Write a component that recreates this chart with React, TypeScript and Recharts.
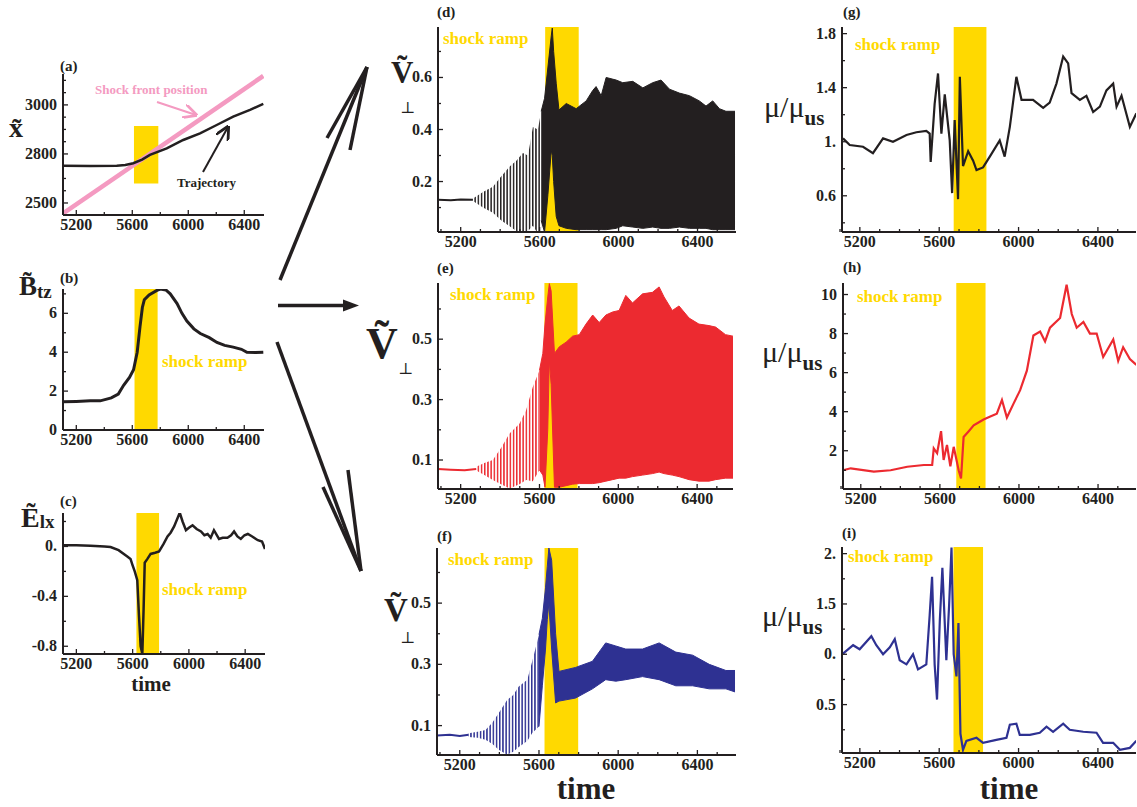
import React from "react";
import { ComposedChart, Line, Area, XAxis, YAxis } from "recharts";

const SERIF = '"Liberation Serif", "Times New Roman", serif';
const INK = "#231f20";
const RED = "#ec2a30";
const BLUE = "#2e3192";
const YELLOW = "#ffd900";
const PINK = "#f49ac1";

// ---- axis ticks ----
const xTicksLeft = [5200, 5400, 5600, 5800, 6000, 6200, 6400];
const xTicksWide = [5100, 5200, 5300, 5400, 5500, 5600, 5700, 5800, 5900, 6000, 6100, 6200, 6300, 6400, 6500];
const xLabVals = [5200, 5600, 6000, 6400];

const aTicks = [2600, 2650, 2700, 2750, 2800, 2850, 2900, 2950, 3000, 3050, 3100];
const aLabVals = [2600, 2800, 3000];
const aLabTexts = ["2500", "2800", "3000"];
const bTicks = [0, 1, 2, 3, 4, 5, 6, 7];
const bLabVals = [0, 2, 4, 6];
const bLabTexts = ["0", "2", "4", "6"];
const cTicks = [-0.8, -0.6, -0.4, -0.2, 0, 0.2];
const cLabVals = [-0.8, -0.4, 0];
const cLabTexts = ["-0.8", "-0.4", "0."];
const dTicks = [0.1, 0.2, 0.3, 0.4, 0.5, 0.6, 0.7];
const dLabVals = [0.2, 0.4, 0.6];
const dLabTexts = ["0.2", "0.4", "0.6"];
const efTicks = [0.1, 0.2, 0.3, 0.4, 0.5, 0.6];
const efLabVals = [0.1, 0.3, 0.5];
const efLabTexts = ["0.1", "0.3", "0.5"];
const gTicks = [0.4, 0.6, 0.8, 1.0, 1.2, 1.4, 1.6, 1.8];
const gLabVals = [0.6, 1.0, 1.4, 1.8];
const gLabTexts = ["0.6", "1.", "1.4", "1.8"];
const hTicks = [1, 2, 3, 4, 5, 6, 7, 8, 9, 10];
const hLabVals = [2, 4, 6, 8, 10];
const hLabTexts = ["2", "4", "6", "8", "10"];
const iTicks = [0.25, 0.5, 0.75, 1.0, 1.25, 1.5, 1.75, 2.0];
const iLabVals = [0.5, 1.0, 1.5, 2.0];
const iLabTexts = ["0.5", "0.", "1.5", "2."];

// ---- (a) positions ----
const aShockT = [5107, 6536];
const aShockX = [2558, 3118];
const aTrajT = [5107, 5300, 5489, 5550, 5607, 5670, 5726, 5846, 5964, 6084, 6203, 6321, 6441, 6536];
const aTrajX = [2752, 2751, 2752, 2755, 2762, 2777, 2796, 2823, 2857, 2884, 2918, 2952, 2980, 3004];

// ---- (b) B_tz ----
const bT = [5107, 5200, 5300, 5371, 5450, 5500, 5538, 5580, 5609, 5635, 5655, 5672, 5686, 5720, 5776, 5800, 5840, 5871, 5920, 5955, 5990, 6040, 6086, 6150, 6205, 6260, 6321, 6380, 6419, 6480, 6536];
const bV = [1.45, 1.47, 1.5, 1.5, 1.65, 1.85, 2.3, 2.7, 3.1, 4.0, 5.3, 6.3, 6.7, 6.95, 7.18, 7.25, 7.2, 7.0, 6.5, 6.0, 5.6, 5.2, 4.96, 4.75, 4.5, 4.35, 4.26, 4.15, 4.0, 3.98, 4.0];

// ---- (c) E_lx ----
const cT = [5105, 5200, 5300, 5400, 5443, 5500, 5562, 5585, 5598, 5615, 5633, 5645, 5657, 5669, 5678, 5686, 5705, 5728, 5760, 5788, 5820, 5848, 5870, 5895, 5935, 5955, 5979, 6000, 6026, 6055, 6086, 6110, 6133, 6155, 6178, 6214, 6240, 6274, 6300, 6321, 6345, 6369, 6395, 6419, 6450, 6490, 6520, 6541];
const cV = [0.01, 0.01, 0.005, 0, -0.005, -0.03, -0.08, -0.1, -0.145, -0.2, -0.27, -0.55, -0.8, -0.86, -0.5, -0.13, -0.1, -0.06, -0.05, -0.04, 0.02, 0.08, 0.11, 0.16, 0.27, 0.2, 0.13, 0.15, 0.17, 0.14, 0.12, 0.09, 0.1, 0.07, 0.13, 0.06, 0.07, 0.07, 0.09, 0.12, 0.08, 0.06, 0.09, 0.1, 0.08, 0.05, 0.04, -0.02];

// ---- (d) V_perp, black ----
const dQuietT = [5085, 5150, 5200, 5262];
const dQuietV = [0.13, 0.128, 0.131, 0.13];
const dOscT = [5262, 5313, 5363, 5406, 5448, 5482, 5515, 5541, 5566, 5591, 5608];
const dOscLo = [0.125, 0.1, 0.08, 0.05, 0.028, 0.01, 0.0, 0.01, 0.03, 0.0, 0.02];
const dOscHi = [0.135, 0.16, 0.18, 0.22, 0.258, 0.28, 0.31, 0.3, 0.41, 0.4, 0.47];
const dT = [5608, 5625, 5642, 5659, 5664, 5671, 5684, 5698, 5735, 5785, 5836, 5869, 5886, 5912, 5937, 5988, 6021, 6072, 6123, 6173, 6215, 6258, 6308, 6359, 6409, 6443, 6477, 6511, 6544, 6590];
const dLo = [0.05, 0.005, 0.15, 0.32, 0.3, 0.2, 0.066, 0.03, 0.02, 0.015, 0.015, 0.015, 0.015, 0.015, 0.015, 0.02, 0.03, 0.025, 0.02, 0.025, 0.02, 0.02, 0.025, 0.02, 0.02, 0.02, 0.015, 0.015, 0.015, 0.015];
const dHi = [0.47, 0.52, 0.64, 0.76, 0.79, 0.7, 0.578, 0.475, 0.5, 0.48, 0.51, 0.55, 0.565, 0.53, 0.6, 0.59, 0.58, 0.585, 0.56, 0.58, 0.59, 0.555, 0.54, 0.53, 0.51, 0.49, 0.51, 0.48, 0.47, 0.47];

// ---- (e) V_perp, red ----
const eQuietT = [5085, 5150, 5220, 5279];
const eQuietV = [0.07, 0.068, 0.066, 0.07];
const eOscT = [5279, 5320, 5363, 5405, 5448, 5498, 5532, 5566, 5600];
const eOscLo = [0.065, 0.05, 0.034, 0.02, 0.006, 0.02, 0.034, 0.03, 0.067];
const eOscHi = [0.078, 0.09, 0.1, 0.14, 0.188, 0.22, 0.265, 0.342, 0.397];
const eT = [5600, 5617, 5628, 5642, 5650, 5659, 5676, 5701, 5735, 5768, 5802, 5836, 5870, 5903, 5937, 5971, 6004, 6038, 6072, 6123, 6173, 6207, 6232, 6274, 6308, 6359, 6409, 6460, 6494, 6544, 6582];
const eLo = [0.067, 0.05, 0.01, 0.2, 0.43, 0.35, 0.01, 0.01, 0.015, 0.02, 0.022, 0.022, 0.022, 0.025, 0.03, 0.035, 0.04, 0.04, 0.045, 0.05, 0.055, 0.06, 0.055, 0.05, 0.045, 0.035, 0.03, 0.03, 0.035, 0.04, 0.04];
const eHi = [0.397, 0.453, 0.55, 0.64, 0.684, 0.66, 0.453, 0.475, 0.49, 0.51, 0.515, 0.55, 0.58, 0.555, 0.58, 0.59, 0.595, 0.645, 0.62, 0.65, 0.655, 0.673, 0.64, 0.595, 0.61, 0.57, 0.55, 0.545, 0.54, 0.515, 0.51];

// ---- (f) V_perp, blue ----
const fQuietT = [5085, 5150, 5200, 5245];
const fQuietV = [0.068, 0.07, 0.066, 0.07];
const fOscT = [5245, 5290, 5330, 5365, 5397, 5439, 5470, 5498, 5541, 5566, 5600];
const fOscLo = [0.063, 0.06, 0.054, 0.04, 0.021, 0.005, 0.015, 0.03, 0.05, 0.076, 0.097];
const fOscHi = [0.075, 0.08, 0.086, 0.11, 0.141, 0.184, 0.2, 0.228, 0.25, 0.31, 0.397];
const fT = [5600, 5617, 5633, 5642, 5650, 5664, 5684, 5701, 5785, 5870, 5937, 5988, 6038, 6123, 6207, 6291, 6376, 6460, 6544, 6590];
const fLo = [0.097, 0.23, 0.35, 0.446, 0.5, 0.35, 0.174, 0.18, 0.19, 0.22, 0.25, 0.245, 0.25, 0.26, 0.25, 0.23, 0.23, 0.22, 0.22, 0.21];
const fHi = [0.397, 0.45, 0.55, 0.62, 0.68, 0.64, 0.4, 0.277, 0.29, 0.31, 0.37, 0.36, 0.35, 0.35, 0.37, 0.34, 0.33, 0.3, 0.28, 0.28];

// ---- (g) mu/mu_us, black ----
const gT = [5115, 5149, 5216, 5266, 5317, 5367, 5435, 5485, 5535, 5552, 5557, 5577, 5594, 5611, 5628, 5653, 5665, 5678, 5695, 5704, 5720, 5746, 5771, 5788, 5821, 5855, 5905, 5930, 5956, 5989, 6015, 6073, 6124, 6157, 6191, 6225, 6250, 6267, 6309, 6342, 6376, 6410, 6443, 6477, 6494, 6519, 6561, 6594];
const gV = [1.025, 0.976, 0.963, 0.915, 1.025, 1.0, 1.05, 1.07, 1.08, 1.06, 0.85, 1.28, 1.505, 1.06, 1.35, 1.01, 0.62, 1.16, 0.575, 1.48, 0.82, 0.93, 0.86, 0.79, 0.81, 0.89, 1.01, 0.89, 1.11, 1.48, 1.31, 1.31, 1.25, 1.29, 1.43, 1.63, 1.58, 1.36, 1.31, 1.34, 1.22, 1.26, 1.38, 1.43, 1.26, 1.34, 1.11, 1.21];

// ---- (h) mu/mu_us, red ----
const hT = [5115, 5149, 5266, 5351, 5435, 5519, 5561, 5569, 5586, 5606, 5619, 5636, 5653, 5670, 5695, 5707, 5720, 5746, 5771, 5804, 5821, 5855, 5888, 5914, 5939, 5972, 6006, 6040, 6073, 6107, 6132, 6157, 6208, 6241, 6267, 6292, 6326, 6359, 6393, 6426, 6477, 6502, 6527, 6561, 6594];
const hV = [1.01, 1.1, 0.93, 1.0, 1.18, 1.27, 1.27, 2.12, 1.87, 3.0, 1.53, 2.3, 1.2, 2.2, 1.0, 0.58, 2.7, 3.0, 3.3, 3.5, 3.6, 3.75, 3.9, 4.6, 3.7, 4.4, 5.1, 6.1, 7.9, 8.1, 7.6, 8.3, 8.8, 10.5, 9.0, 8.3, 8.6, 8.0, 8.0, 6.8, 7.7, 6.6, 7.3, 6.7, 6.4];

// ---- (i) mu/mu_us, blue ----
const iT = [5115, 5166, 5199, 5258, 5283, 5317, 5351, 5376, 5401, 5435, 5468, 5493, 5535, 5552, 5564, 5577, 5589, 5603, 5616, 5636, 5650, 5662, 5673, 5687, 5697, 5707, 5720, 5737, 5788, 5821, 5888, 5939, 5956, 5989, 6006, 6057, 6107, 6141, 6174, 6225, 6258, 6326, 6393, 6426, 6477, 6511, 6561, 6594];
const iV = [1.006, 1.09, 1.05, 1.18, 1.09, 1.0, 1.07, 1.15, 0.94, 0.9, 1.0, 0.85, 0.9, 1.39, 1.77, 0.9, 0.55, 1.33, 1.86, 0.94, 1.49, 2.06, 1.0, 0.78, 1.31, 0.21, 0.05, 0.14, 0.17, 0.12, 0.15, 0.17, 0.3, 0.31, 0.2, 0.2, 0.22, 0.28, 0.23, 0.31, 0.25, 0.23, 0.22, 0.12, 0.12, 0.05, 0.07, 0.14];

const rows = (t: number[], v: number[]) => t.map((x, i) => ({ t: x, v: v[i] }));
const bands = (t: number[], lo: number[], hi: number[]) => t.map((x, i) => ({ t: x, r: [lo[i], hi[i]] }));

function findLab(vals: number[], texts: string[], v: number) {
  const i = vals.findIndex((w) => Math.abs(w - v) < 1e-6);
  return i < 0 ? null : texts[i];
}

const tickText = { fontFamily: SERIF, fontWeight: 700, fontSize: 16, fill: INK };
const ax = { xAxisId: "x", yAxisId: "y", isAnimationActive: false, dot: false, activeDot: false } as const;

type PanelProps = {
  box: [number, number, number, number];
  xDomain: [number, number];
  xTicks: number[];
  yDomain: [number, number];
  yTicks: number[];
  yLabVals: number[];
  yLabTexts: string[];
  band: [number, number];
  bandY?: [number, number];
  children?: React.ReactNode;
};

function Panel({ box, xDomain, xTicks, yDomain, yTicks, yLabVals, yLabTexts, band, bandY, children }: PanelProps) {
  const [l, t, r, b] = box;
  const ml = 50;
  const mt = 6;
  const mr = 6;
  const mb = 24;
  const w = r - l + ml + mr;
  const h = b - t + mt + mb;
  const xTexts = xLabVals.map(String);
  const frame = { stroke: INK, strokeWidth: 2 };
  const [by0, by1] = bandY ?? yDomain;
  const ramp = [
    { t: band[0], r: [by0, by1] },
    { t: band[1], r: [by0, by1] },
  ];
  const layer = { position: "absolute" as const, left: 0, top: 0 };
  return (
    <div style={{ position: "absolute", left: l - ml, top: t - mt, width: w, height: h }}>
      {/* back layer: the shock ramp highlight, same plot box as the front chart */}
      <div style={layer}>
        <ComposedChart width={w} height={h} margin={{ top: mt, right: mr, bottom: mb, left: ml }}>
          <XAxis xAxisId="x" type="number" dataKey="t" domain={xDomain} allowDataOverflow hide />
          <YAxis yAxisId="y" type="number" domain={yDomain} allowDataOverflow hide />
          <Area {...ax} data={ramp} dataKey="r" fill={YELLOW} fillOpacity={1} stroke="none" />
        </ComposedChart>
      </div>
      <div style={layer}>
        <ComposedChart width={w} height={h} margin={{ top: mt, right: mr, bottom: 0, left: 0 }}>
          <defs>
            <pattern id="stripeK" width="3.2" height="10" patternUnits="userSpaceOnUse">
              <rect width="1.5" height="10" fill={INK} />
            </pattern>
            <pattern id="stripeR" width="3.2" height="10" patternUnits="userSpaceOnUse">
              <rect width="1.5" height="10" fill={RED} />
            </pattern>
            <pattern id="stripeB" width="3.2" height="10" patternUnits="userSpaceOnUse">
              <rect width="1.5" height="10" fill={BLUE} />
            </pattern>
          </defs>
          <XAxis
            xAxisId="x" type="number" dataKey="t" domain={xDomain} allowDataOverflow ticks={xTicks} interval={0}
            height={mb} tickSize={0} tickMargin={0} tickLine={false} axisLine={frame}
            tick={(p: any) => {
              const lab = findLab(xLabVals, xTexts, p.payload.value);
              return (
                <g>
                  <line x1={p.x} x2={p.x} y1={p.y} y2={p.y - (lab ? 5 : 3)} stroke={INK} strokeWidth={1.3} />
                  {lab && <text x={p.x} y={p.y + 15} textAnchor="middle" {...tickText}>{lab}</text>}
                </g>
              );
            }}
          />
          <XAxis
            xAxisId="xt" orientation="top" type="number" dataKey="t" domain={xDomain} allowDataOverflow ticks={xTicks} interval={0}
            height={0} tickSize={0} tickMargin={0} tickLine={false} axisLine={frame}
            tick={(p: any) => {
              const lab = findLab(xLabVals, xTexts, p.payload.value);
              return <line x1={p.x} x2={p.x} y1={p.y} y2={p.y + (lab ? 5 : 3)} stroke={INK} strokeWidth={1.3} />;
            }}
          />
          <YAxis
            yAxisId="y" type="number" domain={yDomain} allowDataOverflow ticks={yTicks} interval={0}
            width={ml} tickSize={0} tickMargin={0} tickLine={false} axisLine={frame}
            tick={(p: any) => {
              const lab = findLab(yLabVals, yLabTexts, p.payload.value);
              return (
                <g>
                  <line x1={p.x} x2={p.x + (lab ? 5 : 3)} y1={p.y} y2={p.y} stroke={INK} strokeWidth={1.3} />
                  {lab && <text x={p.x - 6} y={p.y + 5} textAnchor="end" {...tickText}>{lab}</text>}
                </g>
              );
            }}
          />
          <YAxis
            yAxisId="yr" orientation="right" type="number" domain={yDomain} allowDataOverflow ticks={yTicks} interval={0}
            width={0} tickSize={0} tickMargin={0} tickLine={false} axisLine={frame}
            tick={(p: any) => {
              const lab = findLab(yLabVals, yLabTexts, p.payload.value);
              return <line x1={p.x} x2={p.x - (lab ? 5 : 3)} y1={p.y} y2={p.y} stroke={INK} strokeWidth={1.3} />;
            }}
          />
          {children}
        </ComposedChart>
      </div>
    </div>
  );
}

const leftX: [number, number] = [5105, 6541];
const midX: [number, number] = [5085, 6595];
const rightX: [number, number] = [5110, 6592];

function Overlay() {
  const txt = { fontFamily: SERIF, fontWeight: 700, fill: INK } as const;
  const letters: [string, number, number][] = [
    ["(a)", 60, 71], ["(b)", 60, 283], ["(c)", 60, 506],
    ["(d)", 437, 17], ["(e)", 437, 273], ["(f)", 437, 541],
    ["(g)", 843, 17], ["(h)", 843, 272], ["(i)", 842, 538],
  ];
  const ramps: [number, number][] = [
    [162, 367], [162, 595], [443, 44], [450, 300], [448, 565], [855, 50], [857, 302], [848, 562],
  ];
  // x, baseline, V size
  const vLabels: [number, number, number][] = [
    [391, 83, 31],
    [366, 358, 44],
    [384, 621, 33],
  ];
  // perpendicular sign, drawn as its own glyph below-right of the V
  const perps: [number, number][] = [[400, 113], [398, 374], [400, 643]];
  const muLabels: [number, number][] = [[764, 117], [762, 362], [762, 626]];
  return (
    <svg width={1137} height={807} style={{ position: "absolute", left: 0, top: 0, pointerEvents: "none" }}>
      <defs>
        <marker id="headP" viewBox="0 0 10 10" refX="9" refY="5" markerWidth="7" markerHeight="7" orient="auto">
          <path d="M0,0 L10,5 L0,10" fill="none" stroke={PINK} strokeWidth={2} />
        </marker>
        <marker id="headK" viewBox="0 0 10 10" refX="9" refY="5" markerWidth="7" markerHeight="7" orient="auto">
          <path d="M0,0 L10,5 L0,10" fill="none" stroke={INK} strokeWidth={2} />
        </marker>
      </defs>
      {letters.map(([s, x, y]) => (
        <text key={s} x={x} y={y} fontSize={15} {...txt}>{s}</text>
      ))}
      {ramps.map(([x, y], i) => (
        <text key={i} x={x} y={y} fontSize={17} fontFamily={SERIF} fontWeight={700} fill={YELLOW}>shock ramp</text>
      ))}
      {/* (a) annotations */}
      <text x={95} y={94} fontSize={13} fontFamily={SERIF} fontWeight={700} fill={PINK}>Shock front position</text>
      <line x1={157} y1={102} x2={196} y2={115} stroke={PINK} strokeWidth={2} markerEnd="url(#headP)" />
      <text x={177} y={187} fontSize={13} {...txt}>Trajectory</text>
      <line x1={203} y1={172} x2={228} y2={127} stroke={INK} strokeWidth={2} markerEnd="url(#headK)" />
      {/* left y labels */}
      <text x={9} y={137} fontSize={28} {...txt}>{"x\u0303"}</text>
      <text x={19} y={295} fontSize={27} {...txt}>
        {"B\u0303"}
        <tspan fontSize={19} dy={3}>tz</tspan>
      </text>
      <text x={21} y={527} fontSize={28} {...txt}>
        {"\u1EBC"}
        <tspan fontSize={19} dy={1}>lx</tspan>
      </text>
      {/* middle y labels */}
      {vLabels.map(([x, y, s], i) => (
        <text key={i} x={x} y={y} fontSize={s} {...txt}>{"\u1E7C"}</text>
      ))}
      {perps.map(([x, y], i) => (
        <text key={i} x={x} y={y} fontSize={16} fontFamily="DejaVu Serif, serif" fill={INK}>⊥</text>
      ))}
      {/* right y labels */}
      {muLabels.map(([x, y], i) => (
        <text key={i} x={x} y={y} fontSize={30} fontFamily={SERIF} fill={INK}>
          μ/μ
          <tspan fontSize={21} fontWeight={700} dy={8}>us</tspan>
        </text>
      ))}
      {/* time labels */}
      <text x={151} y={691} fontSize={21} textAnchor="middle" {...txt}>time</text>
      <text x={586} y={799} fontSize={31} textAnchor="middle" {...txt}>time</text>
      <text x={1009} y={799} fontSize={31} textAnchor="middle" {...txt}>time</text>
      {/* big arrows */}
      <g stroke={INK} strokeWidth={3.5} fill="none" strokeLinecap="butt">
        <line x1={280} y1={280} x2={367} y2={67} />
        <line x1={367} y1={67} x2={327} y2={138} />
        <line x1={367} y1={67} x2={350} y2={150} />
        <line x1={278} y1={305.5} x2={346} y2={305.5} />
        <line x1={277} y1={342} x2={361} y2={571} />
        <line x1={361} y1={571} x2={323} y2={487} />
        <line x1={361} y1={571} x2={348} y2={470} />
      </g>
      <path d="M343,299.5 L359,305.5 L343,311.5 Z" fill={INK} />
    </svg>
  );
}

export default function App() {
  return (
    <div style={{ position: "absolute", left: 0, top: 0, width: 1137, height: 807, overflow: "hidden", background: "#fff" }}>
      <Panel box={[63, 74, 264, 215]} xDomain={leftX} xTicks={xTicksLeft} yDomain={[2551, 3126]} yTicks={aTicks}
        yLabVals={aLabVals} yLabTexts={aLabTexts} band={[5612, 5786]} bandY={[2679, 2914]}>
        <Line {...ax} data={rows(aShockT, aShockX)} dataKey="v" stroke={PINK} strokeWidth={4.5} />
        <Line {...ax} data={rows(aTrajT, aTrajX)} dataKey="v" stroke={INK} strokeWidth={2.5} />
      </Panel>
      <Panel box={[63, 289, 264, 430]} xDomain={leftX} xTicks={xTicksLeft} yDomain={[0, 7.25]} yTicks={bTicks}
        yLabVals={bLabVals} yLabTexts={bLabTexts} band={[5616, 5781]}>
        <Line {...ax} data={rows(bT, bV)} dataKey="v" stroke={INK} strokeWidth={3} />
      </Panel>
      <Panel box={[63, 513, 265, 654]} xDomain={leftX} xTicks={xTicksLeft} yDomain={[-0.862, 0.268]} yTicks={cTicks}
        yLabVals={cLabVals} yLabTexts={cLabTexts} band={[5627, 5788]}>
        <Line {...ax} data={rows(cT, cV)} dataKey="v" stroke={INK} strokeWidth={2.5} />
      </Panel>

      <Panel box={[438, 27, 736, 232]} xDomain={midX} xTicks={xTicksWide} yDomain={[0.006, 0.794]} yTicks={dTicks}
        yLabVals={dLabVals} yLabTexts={dLabTexts} band={[5628, 5798]}>
        <Line {...ax} data={rows(dQuietT, dQuietV)} dataKey="v" stroke={INK} strokeWidth={2} />
        <Area {...ax} data={bands(dOscT, dOscLo, dOscHi)} dataKey="r" fill="url(#stripeK)" fillOpacity={1} stroke="none" />
        <Area {...ax} data={bands(dT, dLo, dHi)} dataKey="r" fill={INK} fillOpacity={1} stroke={INK} strokeWidth={1} />
      </Panel>
      <Panel box={[438, 283, 733, 489]} xDomain={[5085, 6582]} xTicks={xTicksWide} yDomain={[0.004, 0.686]} yTicks={efTicks}
        yLabVals={efLabVals} yLabTexts={efLabTexts} band={[5625, 5793]}>
        <Line {...ax} data={rows(eQuietT, eQuietV)} dataKey="v" stroke={RED} strokeWidth={2} />
        <Area {...ax} data={bands(eOscT, eOscLo, eOscHi)} dataKey="r" fill="url(#stripeR)" fillOpacity={1} stroke="none" />
        <Area {...ax} data={bands(eT, eLo, eHi)} dataKey="r" fill={RED} fillOpacity={1} stroke={RED} strokeWidth={1} />
      </Panel>
      <Panel box={[437, 548, 736, 755]} xDomain={midX} xTicks={xTicksWide} yDomain={[0.004, 0.68]} yTicks={efTicks}
        yLabVals={efLabVals} yLabTexts={efLabTexts} band={[5628, 5798]}>
        <Line {...ax} data={rows(fQuietT, fQuietV)} dataKey="v" stroke={BLUE} strokeWidth={2} />
        <Area {...ax} data={bands(fOscT, fOscLo, fOscHi)} dataKey="r" fill="url(#stripeB)" fillOpacity={1} stroke="none" />
        <Area {...ax} data={bands(fT, fLo, fHi)} dataKey="r" fill={BLUE} fillOpacity={1} stroke={BLUE} strokeWidth={1} />
      </Panel>

      <Panel box={[842, 27, 1136, 232]} xDomain={rightX} xTicks={xTicksWide} yDomain={[0.332, 1.849]} yTicks={gTicks}
        yLabVals={gLabVals} yLabTexts={gLabTexts} band={[5673, 5838]}>
        <Line {...ax} data={rows(gT, gV)} dataKey="v" stroke={INK} strokeWidth={2.2} />
      </Panel>
      <Panel box={[843, 283, 1136, 489]} xDomain={rightX} xTicks={xTicksWide} yDomain={[0.04, 10.59]} yTicks={hTicks}
        yLabVals={hLabVals} yLabTexts={hLabTexts} band={[5683, 5831]}>
        <Line {...ax} data={rows(hT, hV)} dataKey="v" stroke={RED} strokeWidth={2.2} />
      </Panel>
      <Panel box={[842, 547, 1136, 753]} xDomain={rightX} xTicks={xTicksWide} yDomain={[0.019, 2.066]} yTicks={iTicks}
        yLabVals={iLabVals} yLabTexts={iLabTexts} band={[5672, 5821]}>
        <Line {...ax} data={rows(iT, iV)} dataKey="v" stroke={BLUE} strokeWidth={2.2} />
      </Panel>

      <Overlay />
    </div>
  );
}
